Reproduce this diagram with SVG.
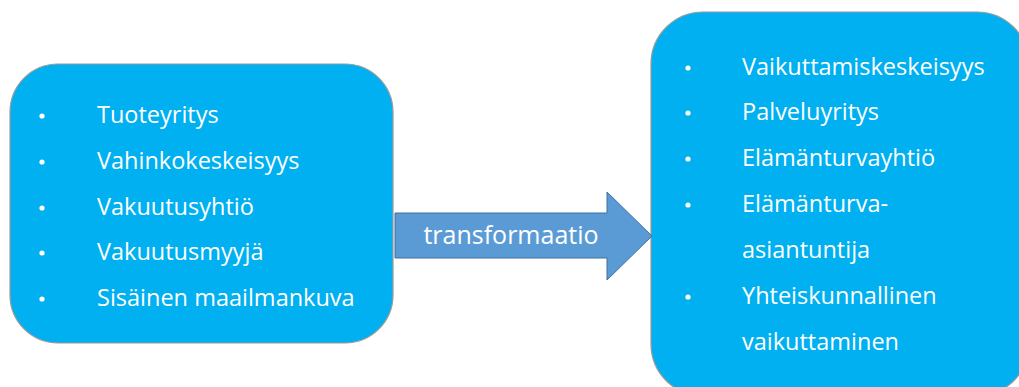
<svg xmlns="http://www.w3.org/2000/svg" width="1019" height="387" viewBox="0 0 1019 387">
  <style>
    .box { fill: #00B0F0; stroke: #9A9A9A; stroke-width: 1.2; }
    .arrow { fill: #5B9BD5; stroke: #41719C; stroke-width: 1; }
    .item { font-family: "Open Sans", "Noto Sans", sans-serif; font-size: 23.5px; fill: #FFFFFF; }
    .bullet { fill: #FFFFFF; }
    .label { font-family: "Open Sans", "Noto Sans", sans-serif; font-size: 25px; fill: #FFFFFF; }
  </style>
  <rect width="1019" height="387" fill="#FFFFFF"/>

  <!-- before -->
  <g id="node-before">
    <rect class="box" x="10" y="64" width="383" height="279" rx="48" ry="48"/>
    <circle class="bullet" cx="42" cy="116" r="2.6"/>
    <circle class="bullet" cx="42" cy="162" r="2.6"/>
    <circle class="bullet" cx="42" cy="208" r="2.6"/>
    <circle class="bullet" cx="42" cy="253" r="2.6"/>
    <circle class="bullet" cx="42" cy="299" r="2.6"/>
    <text class="item" x="97" y="123">Tuoteyritys</text>
    <text class="item" x="97" y="169">Vahinkokeskeisyys</text>
    <text class="item" x="97" y="215">Vakuutusyhtiö</text>
    <text class="item" x="97" y="260">Vakuutusmyyjä</text>
    <text class="item" x="97" y="306">Sisäinen maailmankuva</text>
  </g>

  <!-- after -->
  <g id="node-after">
    <rect class="box" x="651" y="12" width="378" height="384" rx="52" ry="52"/>
    <circle class="bullet" cx="688" cy="68" r="2.6"/>
    <circle class="bullet" cx="688" cy="113" r="2.6"/>
    <circle class="bullet" cx="688" cy="159" r="2.6"/>
    <circle class="bullet" cx="688" cy="205" r="2.6"/>
    <circle class="bullet" cx="688" cy="297" r="2.6"/>
    <text class="item" x="742" y="75">Vaikuttamiskeskeisyys</text>
    <text class="item" x="742" y="120">Palveluyritys</text>
    <text class="item" x="742" y="166">Elämänturvayhtiö</text>
    <text class="item" x="742" y="212">Elämänturva-</text>
    <text class="item" x="742" y="258">asiantuntija</text>
    <text class="item" x="742" y="304">Yhteiskunnallinen</text>
    <text class="item" x="742" y="350">vaikuttaminen</text>
  </g>

  <!-- connector -->
  <g id="connectors">
    <g id="edge-transformaatio">
      <path class="arrow" d="M395,213 H607 V192 L652,236 L607,280 V258 H395 Z"/>
      <text class="label" x="511" y="244" text-anchor="middle">transformaatio</text>
    </g>
  </g>
</svg>
